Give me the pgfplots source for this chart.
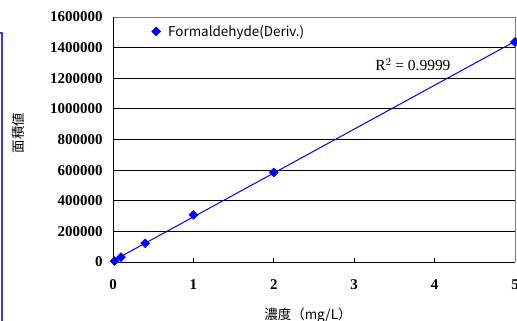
\documentclass[border=0pt]{standalone}
\usepackage{pgfplots}
\pgfplotsset{compat=1.18}
\usepackage{fontspec}
\setmainfont{Liberation Serif}
\newfontfamily\jp{Noto Sans CJK JP}
\definecolor{frameblue}{RGB}{60,60,220}
\begin{document}
\begin{tikzpicture}
\begin{axis}[
  at={(0,0)}, anchor=south west,
  scale only axis, width=402bp, height=245bp,
  xmin=0, xmax=5, ymin=0, ymax=1600000,
  xtick={0,1,2,3,4,5},
  ytick={0,200000,400000,600000,800000,1000000,1200000,1400000,1600000},
  scaled y ticks=false,
  /pgf/number format/fixed, /pgf/number format/1000 sep={},
  /pgf/number format/assume math mode=true,
  tick label style={font=\bfseries\fontsize{15}{17}\selectfont},
  xticklabel style={yshift=-14bp},
  yticklabel style={xshift=-7bp},
  tick align=inside, xtick pos=bottom,
  major tick length=4bp,
  ytick style={draw=none},
  xtick style={black, line width=0.8bp},
  ymajorgrids, grid style={black, line width=0.8bp},
  axis line style={draw=none},
  clip=false,
  legend style={at={(rel axis cs:0.0622,0.996)}, anchor=north west, draw=none, fill=white,
    font=\jp\fontsize{13.5}{16}\selectfont, inner xsep=8bp, inner ysep=5bp,
    /tikz/every even column/.append style={column sep=0bp}},
]
\draw[gray, line width=0.8bp] (rel axis cs:0,1) -- (rel axis cs:1,1) -- (rel axis cs:1,0);
\draw[black, line width=0.8bp] (rel axis cs:0,1) -- (rel axis cs:0,0) -- (rel axis cs:1,0);
\addplot[blue, line width=1bp, forget plot] coordinates {(0.02,13700) (5,1441000)};
\addplot[only marks, mark=square*, mark size=3.2bp, mark options={rotate=45, blue, fill=blue},
  legend image code/.code={\path[draw=none] (0bp,0bp) -- (20bp,0bp); \path[draw=none] plot coordinates {(10bp,0bp)};}] coordinates {
(0.02,6000) (0.1,32000) (0.4,122000) (1,308000) (2,585000) (5,1437000)};
\addlegendentry{Formaldehyde(Deriv.)}
\node[font=\fontsize{15.5}{18}\selectfont] at (axis cs:3.73,1287000) {R$^{2}$ = 0.9999};
\node[font=\jp\fontsize{13.5}{15}\selectfont] at (rel axis cs:0.485,-0.2163) {濃度（mg/L）};
\node[font=\jp\fontsize{13.5}{15}\selectfont, rotate=90] at (rel axis cs:-0.2363,0.5265) {面積値};
\end{axis}
\draw[frameblue, line width=2bp] (-113bp,229bp) -- (-111bp,229bp) -- (-111bp,-59bp);
\pgfresetboundingbox
\path[use as bounding box] (-113bp,-59bp) rectangle (404bp,262bp);
\end{tikzpicture}
\end{document}
